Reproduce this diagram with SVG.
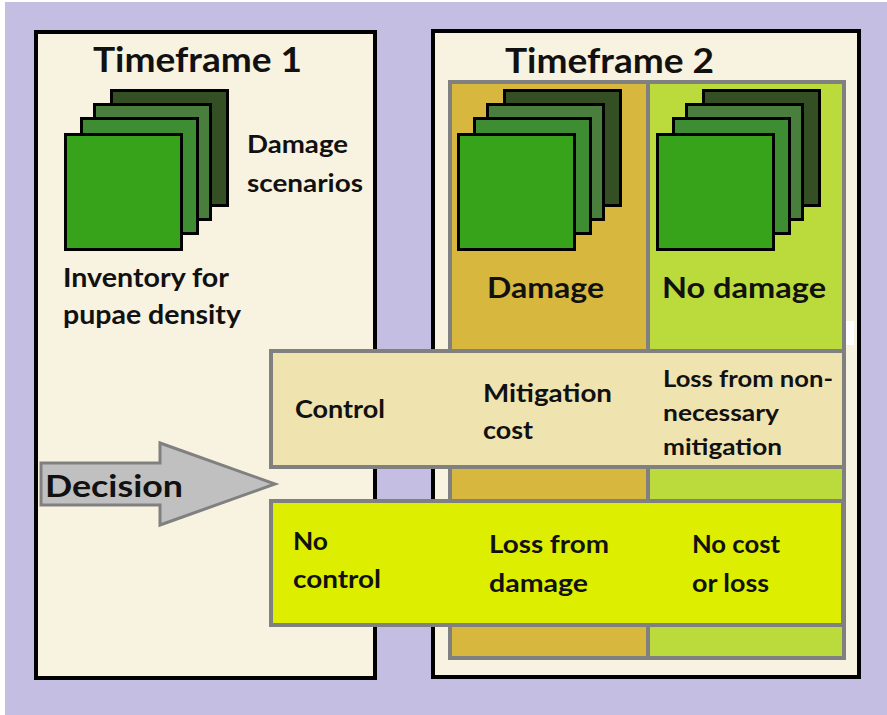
<svg xmlns="http://www.w3.org/2000/svg" xmlns:xlink="http://www.w3.org/1999/xlink" width="887" height="715" viewBox="0 0 887 715">
  <style>
    text { font-family: Lato, "Open Sans", "Liberation Sans", sans-serif; font-weight: bold; fill: #111; }
    .panel { fill: #F8F2E0; stroke: #000; stroke-width: 4; }
    .cell { stroke: #808080; stroke-width: 4; }
    .sq { stroke: #000; stroke-width: 3; }
  </style>
  <defs>
    <!-- stack of four scenario sheets, front sheet top-left at (0,0) -->
    <g id="stack">
      <rect class="sq" x="47.5" y="-42.5" width="116" height="115" fill="#354F24"/>
      <rect class="sq" x="30.5" y="-28.5" width="116" height="115" fill="#4A7E3C"/>
      <rect class="sq" x="17.5" y="-14.5" width="116" height="115" fill="#3F8D32"/>
      <rect class="sq" x="1.5" y="1.5" width="116" height="115" fill="#37A31B"/>
    </g>
  </defs>

  <!-- backdrop -->
  <rect x="0" y="0" width="887" height="715" fill="#FFFFFF"/>
  <rect x="5" y="2" width="882" height="713" fill="#C5BEE3"/>

  <!-- Timeframe 1 panel -->
  <g id="timeframe1">
    <rect class="panel" x="36" y="32" width="339" height="646"/>
    <text x="93" y="72" font-size="35" textLength="209" lengthAdjust="spacingAndGlyphs">Timeframe 1</text>
    <use xlink:href="#stack" x="64" y="133"/>
    <text x="247" y="153" font-size="24" textLength="101" lengthAdjust="spacingAndGlyphs">Damage</text>
    <text x="247" y="192" font-size="24" textLength="116" lengthAdjust="spacingAndGlyphs">scenarios</text>
    <text x="63" y="287" font-size="26" textLength="166" lengthAdjust="spacingAndGlyphs">Inventory for</text>
    <text x="63" y="324" font-size="26" textLength="178" lengthAdjust="spacingAndGlyphs">pupae density</text>
  </g>

  <!-- Timeframe 2 panel -->
  <g id="timeframe2">
    <rect class="panel" x="433" y="31" width="426" height="646"/>
    <text x="505" y="73" font-size="35" textLength="209" lengthAdjust="spacingAndGlyphs">Timeframe 2</text>
  </g>

  <!-- outcome columns -->
  <g id="damage">
    <rect class="cell" x="450" y="82" width="198" height="576" fill="#D8B73E"/>
    <use xlink:href="#stack" x="457" y="133"/>
    <text x="487" y="298" font-size="28" textLength="117" lengthAdjust="spacingAndGlyphs">Damage</text>
  </g>
  <g id="no-damage">
    <rect class="cell" x="648" y="82" width="196" height="576" fill="#BBDB3C"/>
    <use xlink:href="#stack" x="656" y="133"/>
    <text x="662" y="298" font-size="28" textLength="164" lengthAdjust="spacingAndGlyphs">No damage</text>
  </g>
  <rect x="846" y="321" width="8" height="24" fill="#FFFFFF"/>

  <!-- decision rows -->
  <g id="control">
    <rect class="cell" x="271" y="351" width="573" height="116" fill="#EFE3B0"/>
    <text x="295" y="418" font-size="25" textLength="90" lengthAdjust="spacingAndGlyphs">Control</text>
    <text x="483" y="402" font-size="24" textLength="129" lengthAdjust="spacingAndGlyphs">Mitigation</text>
    <text x="483" y="439" font-size="24" textLength="50" lengthAdjust="spacingAndGlyphs">cost</text>
    <text x="663" y="387" font-size="23" textLength="170" lengthAdjust="spacingAndGlyphs">Loss from non-</text>
    <text x="663" y="421" font-size="23" textLength="116" lengthAdjust="spacingAndGlyphs">necessary</text>
    <text x="663" y="455" font-size="23" textLength="119" lengthAdjust="spacingAndGlyphs">mitigation</text>
  </g>
  <g id="no-control">
    <rect class="cell" x="271" y="501" width="572" height="124" fill="#DEEE00"/>
    <text x="293" y="550" font-size="25" textLength="35" lengthAdjust="spacingAndGlyphs">No</text>
    <text x="293" y="588" font-size="25" textLength="88" lengthAdjust="spacingAndGlyphs">control</text>
    <text x="489" y="553" font-size="24" textLength="120" lengthAdjust="spacingAndGlyphs">Loss from</text>
    <text x="489" y="592" font-size="24" textLength="99" lengthAdjust="spacingAndGlyphs">damage</text>
    <text x="692" y="553" font-size="24" textLength="88" lengthAdjust="spacingAndGlyphs">No cost</text>
    <text x="692" y="592" font-size="24" textLength="77" lengthAdjust="spacingAndGlyphs">or loss</text>
  </g>

  <!-- decision arrow -->
  <g id="connectors">
    <path d="M41,463 L160,463 L160,443 L275,484 L160,525 L160,505 L41,505 Z" fill="#C0C0C0" stroke="#808080" stroke-width="3" stroke-linejoin="miter"/>
    <text x="45" y="497" font-size="31" textLength="138" lengthAdjust="spacingAndGlyphs">Decision</text>
  </g>
</svg>
